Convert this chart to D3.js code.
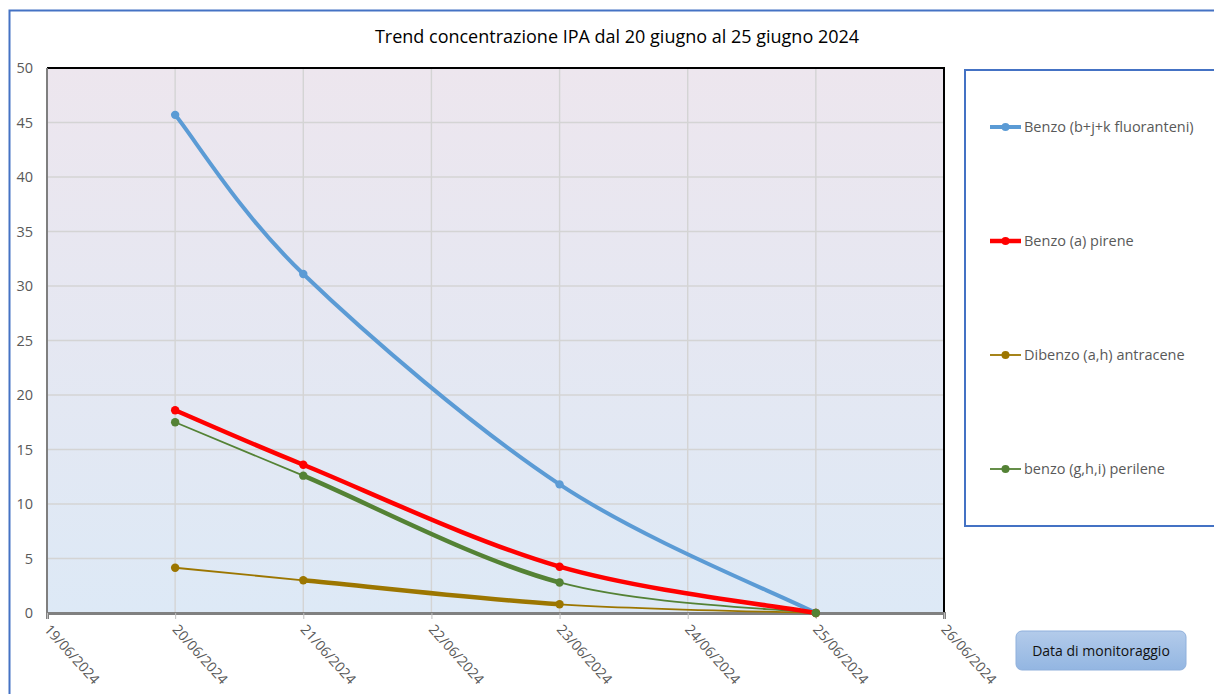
<!DOCTYPE html>
<html>
<head>
<meta charset="utf-8">
<style>
  body { margin: 0; background: #fff; }
  svg { display: block; font-family: "Open Sans", "Noto Sans", sans-serif; }
</style>
</head>
<body>
<div id="chartContainer"></div>
<script src="https://cdn.jsdelivr.net/npm/d3@7"></script>
<script>
// data
var dates = ["2024-06-20", "2024-06-21", "2024-06-23", "2024-06-25"];
var seriesNames = ["Benzo (b+j+k fluoranteni)", "Benzo (a) pirene", "Dibenzo (a,h) antracene", "benzo (g,h,i) perilene"];
var benzoBJK = [45.7, 31.1, 11.8, 0];
var benzoAPirene = [18.6, 13.6, 4.25, 0];
var dibenzoAH = [4.15, 3.0, 0.8, 0];
var benzoGHI = [17.5, 12.6, 2.8, 0];
var yTicks = [0, 5, 10, 15, 20, 25, 30, 35, 40, 45, 50];
var title = "Trend concentrazione IPA dal 20 giugno al 25 giugno 2024";
var buttonLabel = "Data di monitoraggio";

var W = 1214, H = 694;
var svg = d3.select("#chartContainer").append("svg").attr("width", W).attr("height", H);

var parse = d3.timeParse("%Y-%m-%d");
var fmt = d3.timeFormat("%d/%m/%Y");
var plot = {x0: 47, x1: 944, y0: 68, y1: 613};

var x = d3.scaleTime().domain([parse("2024-06-19"), parse("2024-06-26")]).range([plot.x0, plot.x1]);
var y = d3.scaleLinear().domain([0, 50]).range([plot.y1, plot.y0]);

// series styles: per-segment widths copy the odd Excel formatting
var series = [
  {name: seriesNames[0], values: benzoBJK, color: "#5b9bd5", widths: [4, 4, 4], legendW: 4},
  {name: seriesNames[1], values: benzoAPirene, color: "#ff0000", widths: [4.5, 4.5, 4.5], legendW: 4.5},
  {name: seriesNames[2], values: dibenzoAH, color: "#9c7600", widths: [1.8, 4.5, 1.8], legendW: 1.8},
  {name: seriesNames[3], values: benzoGHI, color: "#548235", widths: [1.8, 4.5, 1.8], legendW: 1.8}
];

// outer chart frame (blue)
svg.append("path")
  .attr("d", "M9.5," + H + " L9.5,10.5 L" + W + ",10.5")
  .attr("fill", "none").attr("stroke", "#4472c4").attr("stroke-width", 2);

// title
svg.append("text")
  .attr("x", 617).attr("y", 43)
  .attr("text-anchor", "middle")
  .style("font-size", "18px")
  .style("fill", "#000")
  .text(title);

// plot background gradient
var defs = svg.append("defs");
var bg = defs.append("linearGradient").attr("id", "bg").attr("x1", 0).attr("y1", 0).attr("x2", 0).attr("y2", 1);
bg.append("stop").attr("offset", "0%").attr("stop-color", "#ede6ee");
bg.append("stop").attr("offset", "100%").attr("stop-color", "#dde9f6");

svg.append("rect")
  .attr("x", plot.x0).attr("y", plot.y0)
  .attr("width", plot.x1 - plot.x0).attr("height", plot.y1 - plot.y0)
  .attr("fill", "url(#bg)");

// gridlines
var days = d3.timeDay.range(parse("2024-06-19"), d3.timeDay.offset(parse("2024-06-26"), 1));
svg.append("g").selectAll("line.h").data(yTicks.slice(1, -1)).join("line")
  .attr("x1", plot.x0).attr("x2", plot.x1)
  .attr("y1", d => y(d)).attr("y2", d => y(d))
  .attr("stroke", "#d4d4d4").attr("stroke-width", 1.4);
svg.append("g").selectAll("line.v").data(days.slice(1, -1)).join("line")
  .attr("x1", d => x(d)).attr("x2", d => x(d))
  .attr("y1", plot.y0).attr("y2", plot.y1)
  .attr("stroke", "#d4d4d4").attr("stroke-width", 1.4);

// plot border: black top/right, grey left/bottom
svg.append("path")
  .attr("d", "M" + plot.x0 + "," + plot.y0 + " L" + plot.x1 + "," + plot.y0 + " L" + plot.x1 + "," + plot.y1)
  .attr("fill", "none").attr("stroke", "#000").attr("stroke-width", 2);
svg.append("line")
  .attr("x1", plot.x0).attr("x2", plot.x0).attr("y1", plot.y0).attr("y2", plot.y1)
  .attr("stroke", "#7f7f7f").attr("stroke-width", 2);

// y axis labels
svg.append("g").selectAll("text").data(yTicks).join("text")
  .attr("x", 33).attr("y", d => y(d) + 5)
  .attr("text-anchor", "end")
  .style("font-size", "14.5px").style("fill", "#595959")
  .text(d => d);

// x axis
var xAxis = svg.append("g").attr("transform", "translate(0," + plot.y1 + ")")
  .call(d3.axisBottom(x).tickValues(days).tickFormat(fmt).tickSize(6).tickPadding(4));
xAxis.select(".domain").attr("stroke", "#808080").attr("stroke-width", 3);
xAxis.selectAll(".tick line").attr("stroke", "#bfbfbf").attr("stroke-width", 1);
xAxis.selectAll(".tick text")
  .attr("text-anchor", "start")
  .attr("transform", "translate(-4,17) rotate(48)")
  .attr("x", 0).attr("y", 0).attr("dy", 0)
  .style("font-size", "14px").style("fill", "#595959")
  .style("font-family", "\"Open Sans\", sans-serif");

// smoothed segments (cardinal spline, tension 0, like Excel smoothing)
function segPath(pts, i) {
  var p0 = pts[Math.max(i - 1, 0)], p1 = pts[i], p2 = pts[i + 1], p3 = pts[Math.min(i + 2, pts.length - 1)];
  var c1 = [p1[0] + (p2[0] - p0[0]) / 6, p1[1] + (p2[1] - p0[1]) / 6];
  var c2 = [p2[0] - (p3[0] - p1[0]) / 6, p2[1] - (p3[1] - p1[1]) / 6];
  return "M" + p1 + " C" + c1 + " " + c2 + " " + p2;
}

series.forEach(function (s) {
  s.pts = s.values.map((v, i) => [x(parse(dates[i])), y(v)]);
});

var lineOrder = [0, 2, 3, 1];
lineOrder.forEach(function (k) {
  var s = series[k];
  var g = svg.append("g");
  for (var i = 0; i < s.pts.length - 1; i++) {
    g.append("path").attr("d", segPath(s.pts, i))
      .attr("fill", "none").attr("stroke", s.color)
      .attr("stroke-width", s.widths[i]).attr("stroke-linecap", "round");
  }
});
series.forEach(function (s) {
  svg.append("g").selectAll("circle").data(s.pts).join("circle")
    .attr("cx", d => d[0]).attr("cy", d => d[1]).attr("r", 4.2)
    .attr("fill", s.color);
});

// legend box
svg.append("rect")
  .attr("x", 965).attr("y", 70).attr("width", 270).attr("height", 456)
  .attr("fill", "#fff").attr("stroke", "#4472c4").attr("stroke-width", 2);
var legendY = [127, 241, 355, 469];
series.forEach(function (s, i) {
  var g = svg.append("g").attr("transform", "translate(0," + legendY[i] + ")");
  g.append("line").attr("x1", 990).attr("x2", 1021).attr("y1", 0).attr("y2", 0)
    .attr("stroke", s.color).attr("stroke-width", s.legendW);
  g.append("circle").attr("cx", 1005.5).attr("cy", 0).attr("r", 4).attr("fill", s.color);
  g.append("text").attr("x", 1024).attr("y", 5)
    .style("font-size", "14.5px").style("fill", "#595959")
    .text(s.name);
});

// "Data di monitoraggio" button-like box
var bt = defs.append("linearGradient").attr("id", "btn").attr("x1", 0).attr("y1", 0).attr("x2", 0).attr("y2", 1);
bt.append("stop").attr("offset", "0%").attr("stop-color", "#b3cbea");
bt.append("stop").attr("offset", "100%").attr("stop-color", "#93b6e2");
svg.append("rect")
  .attr("x", 1016).attr("y", 631).attr("width", 170).attr("height", 39).attr("rx", 6)
  .attr("fill", "url(#btn)").attr("stroke", "#8fb0dc").attr("stroke-width", 1);
svg.append("text")
  .attr("x", 1101).attr("y", 656)
  .attr("text-anchor", "middle")
  .style("font-size", "14px").style("fill", "#111")
  .text(buttonLabel);
</script>
</body>
</html>
